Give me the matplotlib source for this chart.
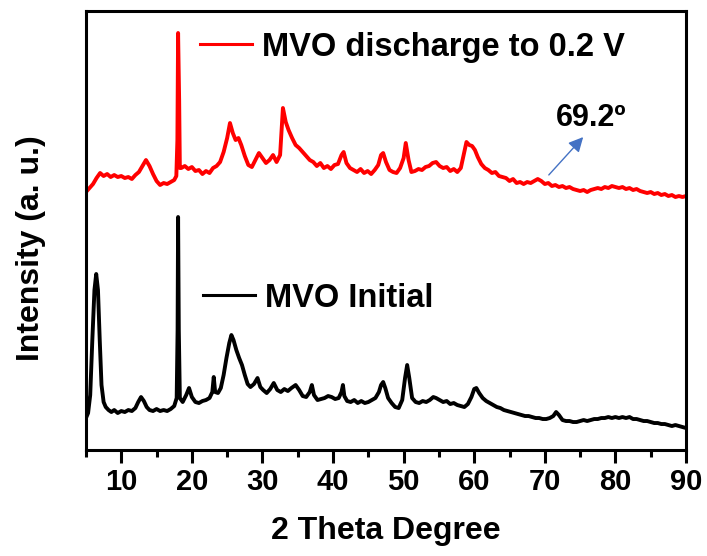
import numpy as np
import matplotlib.pyplot as plt

plt.rcParams['font.family'] = ['Liberation Sans', 'DejaVu Sans']
plt.rcParams['font.weight'] = 'bold'

# red pattern: MVO discharged to 0.2 V (2 theta, intensity a.u.)
two_theta_dis = [5.0, 5.5, 6.0, 6.5, 7.0, 7.5, 8.0, 8.5, 9.0, 9.5, 10.0, 10.5, 11.0, 11.5, 12.0,
                 12.5, 13.0, 13.5, 14.0, 14.5, 15.0, 15.5, 16.0, 16.5, 17.0, 17.5, 17.8, 17.95,
                 18.05, 18.2, 18.3, 18.5, 19.0, 19.5, 20.0, 20.5, 21.0, 21.5, 22.0, 22.5, 23.0,
                 23.5, 24.0, 24.5, 25.0, 25.4, 25.8, 26.2, 26.6, 27.0, 27.5, 28.0, 28.5, 29.0,
                 29.5, 30.0, 30.5, 31.0, 31.5, 32.0, 32.5, 32.9, 33.3, 33.7, 34.2, 34.7, 35.2,
                 35.7, 36.2, 36.7, 37.2, 37.7, 38.2, 38.7, 39.2, 39.7, 40.2, 40.7, 41.2, 41.5,
                 41.9, 42.4, 42.9, 43.4, 43.9, 44.4, 44.9, 45.4, 45.9, 46.4, 46.8, 47.1, 47.5,
                 48.0, 48.5, 49.0, 49.5, 50.0, 50.3, 50.7, 51.1, 51.6, 52.1, 52.6, 53.1, 53.6,
                 54.1, 54.6, 55.1, 55.6, 56.1, 56.6, 57.1, 57.6, 58.1, 58.5, 58.9, 59.3, 59.7,
                 60.1, 60.5, 61.0, 61.5, 62.0, 62.5, 63.0, 63.5, 64.0, 64.5, 65.0, 65.5, 66.0,
                 66.5, 67.0, 67.5, 68.0, 68.5, 69.0, 69.5, 70.0, 70.5, 71.0, 71.5, 72.0, 72.5,
                 73.0, 73.5, 74.0, 74.5, 75.0, 75.5, 76.0, 76.5, 77.0, 77.5, 78.0, 78.5, 79.0,
                 79.5, 80.0, 80.5, 81.0, 81.5, 82.0, 82.5, 83.0, 83.5, 84.0, 84.5, 85.0, 85.5,
                 86.0, 86.5, 87.0, 87.5, 88.0, 88.5, 89.0, 89.5, 90.0]
int_dis = [258, 262, 266, 272, 277, 274, 276, 273, 275, 273, 274, 272, 273, 271, 275,
           278, 284, 290, 284, 276, 269, 265, 267, 266, 268, 270, 274, 310,
           417, 350, 282, 282, 284, 281, 283, 279, 280, 276, 279, 277, 282,
           284, 288, 298, 312, 327, 317, 310, 312, 305, 294, 285, 283, 290,
           297, 292, 287, 290, 295, 288, 295, 342, 328, 320, 312, 305, 302,
           298, 294, 290, 288, 284, 287, 282, 284, 281, 285, 286, 295, 298,
           287, 282, 280, 278, 281, 277, 279, 276, 280, 285, 295, 297, 288,
           280, 278, 277, 282, 292, 307, 290, 278, 279, 281, 280, 283, 284,
           287, 288, 284, 282, 283, 279, 281, 278, 282, 295, 308, 305, 304,
           300, 293, 286, 282, 280, 277, 278, 274, 273, 272, 269, 271, 267,
           268, 266, 268, 267, 269, 271, 269, 266, 267, 264, 265, 263, 264,
           262, 263, 261, 260, 259, 260, 258, 260, 261, 262, 261, 263, 262,
           264, 263, 262, 263, 261, 262, 260, 261, 259, 258, 257, 258, 256,
           257, 255, 256, 254, 255, 253, 254, 253, 254]

# black pattern: MVO initial
two_theta_ini = [5.0, 5.3, 5.6, 5.9, 6.2, 6.45, 6.7, 6.95, 7.2, 7.5, 7.8, 8.2, 8.6, 9.0, 9.5,
                 10.0, 10.5, 11.0, 11.5, 12.0, 12.4, 12.8, 13.2, 13.6, 14.0, 14.5, 15.0, 15.5,
                 16.0, 16.5, 17.0, 17.5, 17.85, 17.98, 18.05, 18.15, 18.3, 18.7, 19.2, 19.6,
                 20.0, 20.5, 21.0, 21.5, 22.0, 22.5, 22.9, 23.1, 23.3, 23.7, 24.1, 24.5, 24.9,
                 25.3, 25.6, 25.9, 26.3, 26.7, 27.1, 27.5, 27.9, 28.3, 28.8, 29.3, 29.7, 30.1,
                 30.6, 31.1, 31.6, 32.1, 32.6, 33.1, 33.6, 34.1, 34.7, 35.2, 35.7, 36.2, 36.7,
                 37.0, 37.3, 37.8, 38.3, 38.8, 39.3, 39.8, 40.3, 40.8, 41.2, 41.4, 41.6, 42.0,
                 42.5, 43.0, 43.5, 44.0, 44.5, 45.0, 45.5, 46.0, 46.5, 46.8, 47.1, 47.4, 47.8,
                 48.3, 48.8, 49.3, 49.8, 50.2, 50.5, 50.8, 51.2, 51.7, 52.2, 52.7, 53.2, 53.7,
                 54.2, 54.6, 55.1, 55.6, 56.1, 56.6, 57.1, 57.6, 58.1, 58.6, 59.1, 59.6, 60.0,
                 60.3, 60.7, 61.2, 61.7, 62.2, 62.7, 63.2, 63.7, 64.2, 64.7, 65.2, 65.7, 66.2,
                 66.7, 67.2, 67.7, 68.2, 68.7, 69.2, 69.7, 70.2, 70.7, 71.2, 71.6, 72.0, 72.5,
                 73.0, 73.5, 74.0, 74.5, 75.0, 75.5, 76.0, 76.5, 77.0, 77.5, 78.0, 78.5, 79.0,
                 79.5, 80.0, 80.5, 81.0, 81.5, 82.0, 82.5, 83.0, 83.5, 84.0, 84.5, 85.0, 85.5,
                 86.0, 86.5, 87.0, 87.5, 88.0, 88.5, 89.0, 89.5, 90.0]
int_ini = [32, 37, 55, 110, 160, 176, 160, 110, 65, 48, 43, 40, 38, 40, 37,
           39, 38, 40, 39, 42, 48, 53, 49, 43, 40, 39, 41, 39,
           40, 39, 41, 44, 52, 120, 233, 120, 52, 48, 55, 62,
           53, 48, 47, 49, 50, 52, 58, 73, 58, 57, 62, 75, 92,
           107, 115, 110, 100, 92, 85, 75, 66, 63, 66, 72, 63, 60,
           57, 61, 67, 60, 58, 61, 59, 62, 65, 60, 54, 53, 58,
           65, 55, 50, 51, 52, 54, 53, 51, 52, 58, 65, 54, 49,
           48, 50, 47, 49, 47, 48, 50, 52, 58, 65, 68, 62, 52,
           47, 43, 42, 50, 72, 85, 72, 52, 48, 47, 49, 48, 50,
           53, 52, 50, 48, 49, 46, 47, 45, 44, 43, 46, 53, 61,
           62, 57, 52, 49, 47, 45, 43, 42, 40, 39, 38, 37, 36,
           35, 34, 34, 33, 32, 32, 31, 31, 32, 34, 38, 35, 30,
           29, 29, 28, 28, 29, 30, 29, 30, 31, 31, 32, 32, 33,
           32, 33, 32, 33, 32, 33, 31, 31, 30, 29, 29, 28, 27,
           27, 26, 26, 25, 24, 25, 24, 23, 22]

label_dis = 'MVO discharge to 0.2 V'
label_ini = 'MVO Initial'

fig = plt.figure(figsize=(7.07, 5.56), dpi=100)
ax = fig.add_axes([0.1216, 0.1906, 0.8487, 0.7896])

line_dis, = ax.plot(two_theta_dis, int_dis, '-', color='#ff0000', lw=2.8)
line_ini, = ax.plot(two_theta_ini, int_ini, '-', color='black', lw=2.8)

ax.set_xlim(5, 90)
ax.set_ylim(0, 439)
ax.set_yticks([])
ax.set_xticks(range(10, 91, 10))
ax.set_xticks(range(5, 91, 10), minor=True)
ax.tick_params(which='major', length=9, width=2.2, direction='out', labelsize=21, pad=4)
ax.tick_params(which='minor', length=5, width=2.2, direction='out')
for s in ax.spines.values():
    s.set_linewidth(2.2)

ax.set_xlabel('2 Theta Degree', fontsize=23, fontweight='bold', labelpad=14)
ax.set_ylabel('Intensity (a. u.)', fontsize=23, fontweight='bold')
ax.yaxis.set_label_coords(-0.066, 0.46)

#legends placed next to each pattern
leg1 = ax.legend([line_dis], [label_dis], loc='center left', bbox_to_anchor=(0.19, 0.918),
                 frameon=False, fontsize=23.5, handlelength=1.6, handletextpad=0.3,
                 borderpad=0, borderaxespad=0)
for h in leg1.get_lines():
    h.set_linewidth(2.2)
ax.add_artist(leg1)
leg2 = ax.legend([line_ini], [label_ini], loc='center left', bbox_to_anchor=(0.195, 0.346),
                 frameon=False, fontsize=23.5, handlelength=1.6, handletextpad=0.3,
                 borderpad=0, borderaxespad=0)
for h in leg2.get_lines():
    h.set_linewidth(2.2)

ax.annotate('', xy=(75.7, 315), xytext=(70.3, 273),
            arrowprops=dict(arrowstyle='-|>', color='#4472C4', lw=1, mutation_scale=22))
ax.text(76.5, 332, '69.2º', fontsize=22, fontweight='bold', ha='center', va='center')

fig.savefig('out.png', dpi=100)
